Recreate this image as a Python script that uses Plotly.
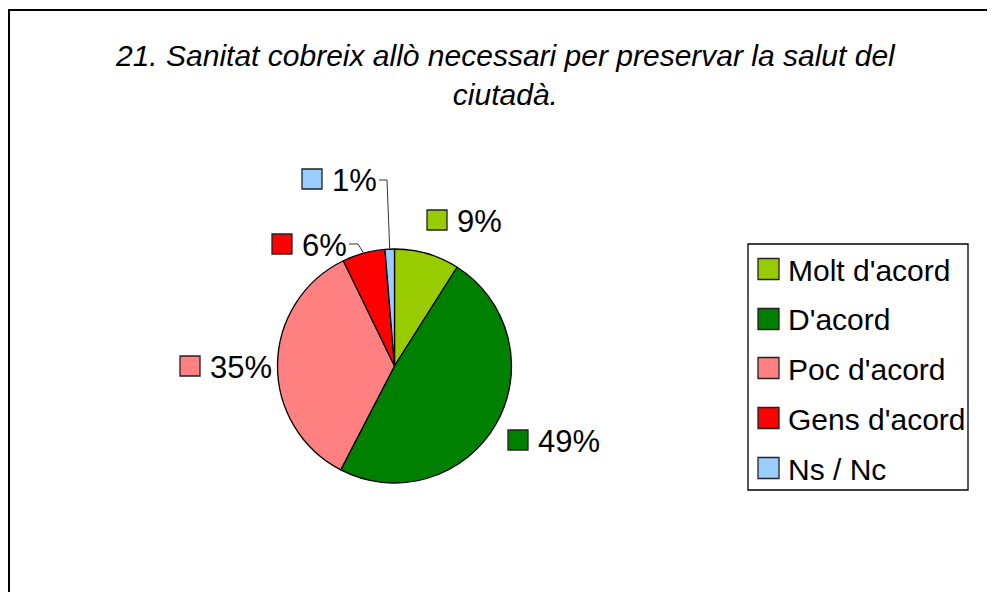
import math
import plotly.graph_objects as go

# ---- data ----
categories = ["Molt d'acord", "D'acord", "Poc d'acord", "Gens d'acord", "Ns / Nc"]
values = [9.0, 48.6, 35.2, 5.9, 1.3]
pct_labels = ["9%", "49%", "35%", "6%", "1%"]
colors = ["#99CC00", "#008000", "#FF8080", "#FF0000", "#99CCFF"]
title_text = "<i>21. Sanitat cobreix allò necessari per preservar la salut del<br>ciutadà.</i>"

W, H = 995, 592
OFF = 8  # page body margin
FONT = "Liberation Sans, Arial, sans-serif"

def px(x):
    return (x - OFF) / W

def py(y):
    return 1 - (y - OFF) / H

# pie geometry (pixels)
cx, cy, r = 394.5, 366.0, 117.0

fig = go.Figure()
fig.add_trace(go.Pie(
    labels=categories, values=values, sort=False, direction="clockwise",
    rotation=0, marker=dict(colors=colors, line=dict(color="black", width=1.3)),
    textinfo="none", hoverinfo="label+percent", showlegend=False,
    domain=dict(x=[px(cx - r), px(cx + r)], y=[py(cy + r), py(cy - r)]),
))

shapes = []
annotations = []

# outer frame
shapes.append(dict(type="rect", xref="paper", yref="paper",
                   x0=px(9), x1=px(1010), y0=py(610), y1=py(10),
                   line=dict(color="black", width=2), fillcolor="rgba(0,0,0,0)"))

# title
annotations.append(dict(text=title_text, x=px(505), y=py(75), xref="paper", yref="paper",
                        showarrow=False, xanchor="center", yanchor="middle",
                        font=dict(family=FONT, size=30, color="black")))

# data labels: (square left x, center y)
label_pos = [(427, 220), (508, 440), (180, 366), (272, 244), (302, 179)]
total = sum(values)
cum = 0
mids = []
for v in values:
    mids.append((cum + v / 2) / total * 360)
    cum += v

for i, (lx, ly) in enumerate(label_pos):
    shapes.append(dict(type="rect", xref="paper", yref="paper",
                       x0=px(lx), x1=px(lx + 20), y0=py(ly + 10), y1=py(ly - 10),
                       fillcolor=colors[i], line=dict(color="#222222", width=1.3)))
    annotations.append(dict(text=pct_labels[i], x=px(lx + 28), y=py(ly + 1), xref="paper", yref="paper",
                            showarrow=False, xanchor="left", yanchor="middle",
                            font=dict(family=FONT, size=31, color="black")))

# leader lines for small slices (Gens d'acord, Ns/Nc)
for i, (sx, sy, kx) in [(4, (379, 180, 387)), (3, (349, 244, 358))]:
    a = math.radians(mids[i])
    ex = cx + r * math.sin(a)
    ey = cy - r * math.cos(a)
    shapes.append(dict(type="path", xref="paper", yref="paper",
                       path=f"M {px(sx)},{py(sy)} L {px(kx)},{py(sy)} L {px(ex)},{py(ey)}",
                       line=dict(color="#333333", width=1)))

# legend box
shapes.append(dict(type="rect", xref="paper", yref="paper",
                   x0=px(748), x1=px(968), y0=py(490), y1=py(244),
                   line=dict(color="black", width=1.3), fillcolor="white"))
legend_y = [269, 319, 368, 418, 468]
for i, name in enumerate(categories):
    ly = legend_y[i]
    shapes.append(dict(type="rect", xref="paper", yref="paper",
                       x0=px(758), x1=px(779), y0=py(ly + 10.5), y1=py(ly - 10.5),
                       fillcolor=colors[i], line=dict(color="#222222", width=1.3)))
    annotations.append(dict(text=name, x=px(786), y=py(ly + 1), xref="paper", yref="paper",
                            showarrow=False, xanchor="left", yanchor="middle",
                            font=dict(family=FONT, size=30, color="black")))

fig.update_layout(
    width=W, height=H, margin=dict(l=0, r=0, t=0, b=0),
    paper_bgcolor="white", plot_bgcolor="white",
    shapes=shapes, annotations=annotations,
    showlegend=False,
)

fig.write_html("out.html")
